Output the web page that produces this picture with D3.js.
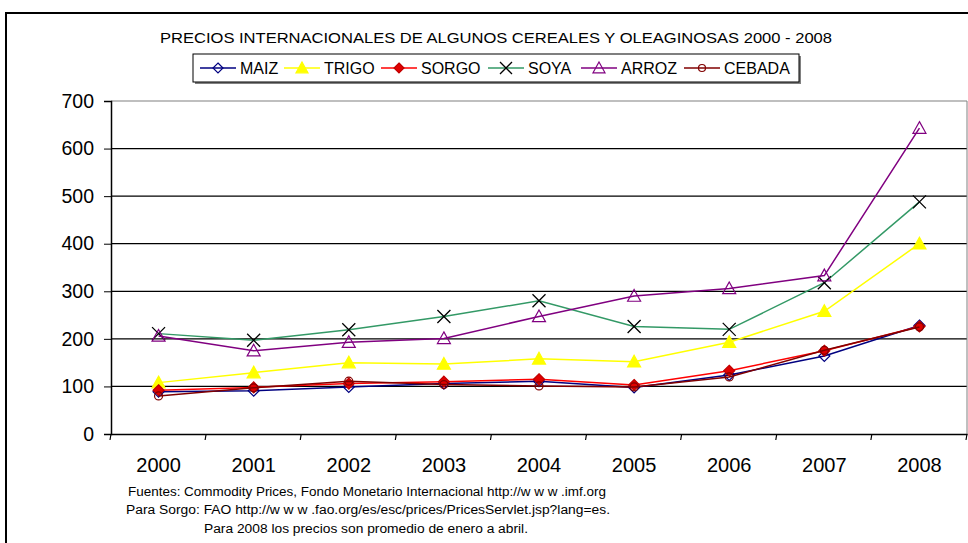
<!DOCTYPE html>
<html>
<head>
<meta charset="utf-8">
<script src="https://cdn.jsdelivr.net/npm/d3@7"></script>
<style>
  body { margin: 0; background: #fff; }
  svg { display: block; font-family: "Liberation Sans", Arial, sans-serif; }
</style>
</head>
<body>
<div id="vis-container"></div>
<script>
"use strict";

// Data
const years = ["2000", "2001", "2002", "2003", "2004", "2005", "2006", "2007", "2008"];
const maiz   = [89, 91, 99, 106, 111, 98, 124, 164, 228];
const trigo  = [108, 129, 150, 147, 158, 152, 193, 258, 400];
const sorgo  = [92, 98, 106, 110, 115, 103, 133, 175, 226];
const soya   = [211, 197, 219, 247, 280, 226, 220, 318, 488];
const arroz  = [206, 175, 193, 201, 247, 290, 306, 333, 643];
const cebada = [80, 97, 111, 104, 101, 99, 120, 176, 225];
const yTicks = [0, 100, 200, 300, 400, 500, 600, 700];

const seriesNames = ["MAIZ", "TRIGO", "SORGO", "SOYA", "ARROZ", "CEBADA"];
const seriesValues = [maiz, trigo, sorgo, soya, arroz, cebada];

const titleText = "PRECIOS INTERNACIONALES DE ALGUNOS CEREALES Y OLEAGINOSAS 2000 - 2008";
const notes = [
    "Fuentes: Commodity Prices, Fondo Monetario Internacional http://w w w .imf.org",
    "Para Sorgo: FAO http://w w w .fao.org/es/esc/prices/PricesServlet.jsp?lang=es.",
    "Para 2008 los precios son promedio de enero a abril."
];

function mainIndex()
{
    const width = 968, height = 543;
    const font = "'Liberation Sans', Arial, sans-serif";

    // styles per series
    const styles = {
        MAIZ:   { line: "#000080", shape: "diamond", fill: "none",    stroke: "#000080", size: 11 },
        TRIGO:  { line: "#FFFF00", shape: "triangle", fill: "#FFFF00", stroke: "#FFFF00", size: 13 },
        SORGO:  { line: "#FF0000", shape: "diamond", fill: "#E00000", stroke: "#C00000", size: 11 },
        SOYA:   { line: "#339966", shape: "cross",   fill: "none",    stroke: "#000000", size: 13 },
        ARROZ:  { line: "#800080", shape: "triangle", fill: "none",   stroke: "#800080", size: 13 },
        CEBADA: { line: "#800000", shape: "circle",  fill: "none",    stroke: "#800000", size: 8 }
    };

    const plot = { left: 111, right: 967, top: 101, bottom: 434 };

    const x = d3.scaleBand().domain(years).range([plot.left, plot.right]).padding(0);
    const y = d3.scaleLinear().domain([0, 700]).range([plot.bottom, plot.top]);
    const cx = d => x(d) + x.bandwidth() / 2;

    const svg = d3.select("#vis-container")
        .append("svg")
        .attr("width", width)
        .attr("height", height);

    // outer frame (cut off at right and bottom)
    svg.append("path")
        .attr("d", `M6,${height + 5} V13 H${width + 5}`)
        .attr("fill", "none")
        .attr("stroke", "#000")
        .attr("stroke-width", 2);

    // title
    svg.append("text")
        .attr("x", 160)
        .attr("y", 43)
        .attr("textLength", 672)
        .attr("lengthAdjust", "spacingAndGlyphs")
        .style("font-size", "15px")
        .text(titleText);

    // gridlines
    svg.append("g")
        .selectAll("line")
        .data(yTicks.filter(d => d > 0))
        .enter()
        .append("line")
        .attr("x1", plot.left)
        .attr("x2", plot.right)
        .attr("y1", d => y(d))
        .attr("y2", d => y(d))
        .attr("stroke", d => d === 700 ? "#808080" : "#000")
        .attr("stroke-width", 1.2);

    // right plot border
    svg.append("line")
        .attr("x1", plot.right).attr("x2", plot.right)
        .attr("y1", plot.top).attr("y2", plot.bottom)
        .attr("stroke", "#808080");

    // y axis
    const yAxis = d3.axisLeft(y).tickValues(yTicks).tickSize(7).tickPadding(10);
    const yg = svg.append("g")
        .attr("transform", `translate(${plot.left},0)`)
        .call(yAxis);
    yg.select(".domain").attr("stroke", "#000").attr("stroke-width", 1.5);
    yg.selectAll(".tick line").attr("stroke", "#000");
    yg.selectAll("text")
        .attr("fill", "#000")
        .style("font-size", "19.5px")
        .style("font-family", font);

    // x axis
    const xAxis = d3.axisBottom(x).tickSize(0).tickPadding(24);
    const xg = svg.append("g")
        .attr("transform", `translate(0,${plot.bottom})`)
        .call(xAxis);
    xg.select(".domain").attr("stroke", "#000").attr("stroke-width", 1.5);
    xg.selectAll("text")
        .attr("fill", "#000")
        .style("font-size", "20px")
        .style("font-family", font);

    // x tick marks at category boundaries
    const bounds = years.map(d => x(d)).concat([plot.right]);
    svg.append("g")
        .selectAll("line")
        .data(bounds)
        .enter()
        .append("line")
        .attr("x1", d => d)
        .attr("x2", d => d - 1)
        .attr("y1", plot.bottom)
        .attr("y2", plot.bottom + 6)
        .attr("stroke", "#000")
        .attr("stroke-width", 1.2);

    // marker drawing helper
    function drawMarker(g, st, px, py) {
        const s = st.size / 2;
        if (st.shape === "diamond") {
            g.append("path")
                .attr("d", `M${px},${py - s} L${px + s},${py} L${px},${py + s} L${px - s},${py} Z`)
                .attr("fill", st.fill)
                .attr("stroke", st.stroke)
                .attr("stroke-width", 1.2);
        } else if (st.shape === "triangle") {
            g.append("path")
                .attr("d", `M${px},${py - s} L${px + s},${py + s * 0.8} L${px - s},${py + s * 0.8} Z`)
                .attr("fill", st.fill)
                .attr("stroke", st.stroke)
                .attr("stroke-width", 1.2);
        } else if (st.shape === "cross") {
            g.append("path")
                .attr("d", `M${px - s},${py - s} L${px + s},${py + s} M${px - s},${py + s} L${px + s},${py - s}`)
                .attr("stroke", st.stroke)
                .attr("stroke-width", 1.3);
        } else {
            g.append("circle")
                .attr("cx", px)
                .attr("cy", py)
                .attr("r", s)
                .attr("fill", st.fill)
                .attr("stroke", st.stroke)
                .attr("stroke-width", 1.2);
        }
    }

    const line = d3.line()
        .x((d, i) => cx(years[i]))
        .y(d => y(d));

    // series
    seriesNames.forEach((name, k) => {
        const st = styles[name];
        const g = svg.append("g").attr("class", "series");
        g.append("path")
            .datum(seriesValues[k])
            .attr("d", line)
            .attr("fill", "none")
            .attr("stroke", st.line)
            .attr("stroke-width", 1.5);
        seriesValues[k].forEach((v, i) => drawMarker(g, st, cx(years[i]), y(v)));
    });

    // legend
    const legendBox = { x: 193, y: 54, w: 606, h: 28 };
    svg.append("rect")
        .attr("x", legendBox.x + 2)
        .attr("y", legendBox.y + 2)
        .attr("width", legendBox.w)
        .attr("height", legendBox.h)
        .attr("fill", "#808080");
    svg.append("rect")
        .attr("x", legendBox.x)
        .attr("y", legendBox.y)
        .attr("width", legendBox.w)
        .attr("height", legendBox.h)
        .attr("fill", "#fff")
        .attr("stroke", "#000")
        .attr("stroke-width", 1);

    const legendX = [200, 284, 381, 488, 581, 684];
    const midY = legendBox.y + legendBox.h / 2;
    seriesNames.forEach((name, k) => {
        const st = styles[name];
        const g = svg.append("g").attr("class", "legend-label");
        const lx = legendX[k];
        g.append("line")
            .attr("x1", lx).attr("x2", lx + 36)
            .attr("y1", midY).attr("y2", midY)
            .attr("stroke", st.line)
            .attr("stroke-width", 1.5);
        drawMarker(g, Object.assign({}, st, { size: st.size - 1 }), lx + 18, midY);
        g.append("text")
            .attr("x", lx + 40)
            .attr("y", midY + 6)
            .style("font-size", "16px")
            .text(name);
    });

    // footnotes
    const noteX = [128, 126, 204];
    const noteY = [496, 514, 533];
    const noteW = [478, 484, 324];
    svg.append("g")
        .selectAll("text")
        .data(notes)
        .enter()
        .append("text")
        .attr("x", (d, i) => noteX[i])
        .attr("y", (d, i) => noteY[i])
        .attr("textLength", (d, i) => noteW[i])
        .attr("lengthAdjust", "spacingAndGlyphs")
        .style("font-size", "12.5px")
        .text(d => d);
}

document.addEventListener("DOMContentLoaded", mainIndex);
</script>
</body>
</html>
